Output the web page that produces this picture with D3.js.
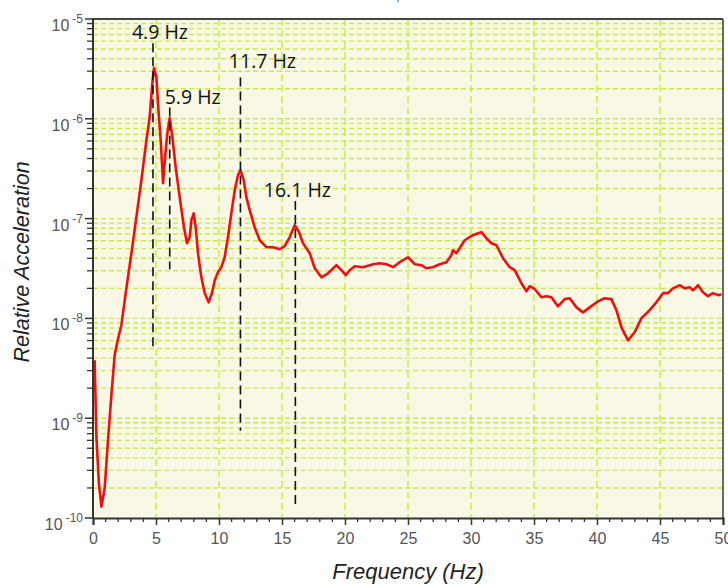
<!DOCTYPE html>
<html>
<head>
<meta charset="utf-8">
<script src="https://cdnjs.cloudflare.com/ajax/libs/d3/7.8.5/d3.min.js"></script>
<style>
    body { margin: 0; background: #fff; }
</style>
</head>
<body>
<div id="chart"></div>
<script>
// spectrum (Hz, relative acceleration)
const freqHz = [0.13, 0.18, 0.27, 0.47, 0.67, 0.93, 1.19, 1.46, 1.72, 1.98, 2.25, 2.65, 3.05, 3.44, 3.84,
    4.24, 4.50, 4.71, 4.84, 5.03, 5.21, 5.37, 5.51, 5.56, 5.75, 5.90, 6.09, 6.30, 6.56, 6.88, 7.22,
    7.46, 7.67, 7.81, 7.99, 8.15, 8.33, 8.60, 8.87, 9.18, 9.44, 9.66, 9.92, 10.19, 10.45, 10.71, 10.98,
    11.25, 11.51, 11.70, 11.96, 12.17, 12.44, 12.83, 13.23, 13.76, 14.29, 14.82, 15.21, 15.61, 16.01,
    16.35, 16.67, 17.20, 17.60, 18.13, 18.65, 19.32, 19.71, 20.06, 20.37, 20.77, 21.43, 22.22, 22.75,
    23.29, 23.81, 24.34, 25.00, 25.53, 26.06, 26.46, 26.98, 27.52, 28.05, 28.44, 28.57, 28.84, 29.10,
    29.50, 30.16, 30.56, 30.83, 31.22, 31.62, 32.02, 32.54, 33.07, 33.47, 34.00, 34.40, 34.66, 35.06,
    35.59, 35.98, 36.38, 36.90, 37.44, 37.83, 38.37, 38.89, 39.42, 40.08, 40.61, 41.14, 41.54, 41.94,
    42.46, 42.99, 43.52, 44.18, 44.71, 45.24, 45.63, 46.03, 46.56, 46.96, 47.36, 47.62, 48.02, 48.41,
    48.81, 49.21, 49.60, 49.87];
const accel = [3.8e-9, 2.0e-9, 6.6e-10, 2.2e-10, 1.3e-10, 2.0e-10, 6.0e-10, 1.7e-9, 4.3e-9, 6.2e-9, 8.5e-9,
    2.0e-8, 4.5e-8, 1.03e-7, 2.43e-7, 6.1e-7, 1.04e-6, 2.28e-6, 3.23e-6, 2.62e-6, 1.14e-6, 6.1e-7,
    3.06e-7, 2.26e-7, 4.53e-7, 7.19e-7, 1.02e-6, 6.55e-7, 3.28e-7, 1.64e-7, 8.2e-8, 5.66e-8, 6.5e-8,
    9.64e-8, 1.13e-7, 8.2e-8, 4.5e-8, 2.58e-8, 1.79e-8, 1.45e-8, 1.79e-8, 2.41e-8, 2.9e-8, 3.26e-8,
    4.1e-8, 6.5e-8, 1.13e-7, 1.93e-7, 2.72e-7, 3.06e-7, 2.43e-7, 1.64e-7, 1.21e-7, 8.2e-8, 6.07e-8,
    5.17e-8, 5.17e-8, 4.93e-8, 5.29e-8, 6.5e-8, 8.59e-8, 7.31e-8, 5.66e-8, 4.5e-8, 3.18e-8, 2.58e-8,
    2.83e-8, 3.41e-8, 3.04e-8, 2.71e-8, 3.04e-8, 3.33e-8, 3.26e-8, 3.49e-8, 3.57e-8, 3.49e-8, 3.26e-8,
    3.66e-8, 4.1e-8, 3.49e-8, 3.41e-8, 3.18e-8, 3.26e-8, 3.49e-8, 3.66e-8, 4.3e-8, 4.82e-8, 4.5e-8,
    5.05e-8, 6.07e-8, 6.82e-8, 7.14e-8, 7.31e-8, 6.36e-8, 5.66e-8, 5.41e-8, 4.01e-8, 3.26e-8, 3.04e-8,
    2.25e-8, 1.87e-8, 2.1e-8, 1.96e-8, 1.63e-8, 1.67e-8, 1.63e-8, 1.32e-8, 1.56e-8, 1.59e-8, 1.29e-8,
    1.15e-8, 1.29e-8, 1.48e-8, 1.59e-8, 1.56e-8, 1.21e-8, 8.14e-9, 6.03e-9, 7.26e-9, 1.0e-8, 1.21e-8,
    1.45e-8, 1.79e-8, 1.79e-8, 2.0e-8, 2.15e-8, 2.0e-8, 2.05e-8, 1.91e-8, 2.15e-8, 1.83e-8, 1.67e-8,
    1.79e-8, 1.71e-8, 1.75e-8];

const xTickValues = [0, 5, 10, 15, 20, 25, 30, 35, 40, 45, 50];
const yExponents = [-10, -9, -8, -7, -6, -5];

// peak markers
const peakLabels = ["4.9 Hz", "5.9 Hz", "11.7 Hz", "16.1 Hz"];
const peakFreq = [4.76, 6.09, 11.7, 16.06];
const peakTop = [5.7e-6, 1.3e-6, 2.6e-6, 1.5e-7];
const peakBottom = [4.9e-9, 3.1e-8, 7.5e-10, 1.3e-10];

const width = 728, height = 586;
const margin = { top: 19, right: 5, bottom: 68, left: 93 };

const svg = d3.select("#chart")
    .append("svg")
    .attr("width", width)
    .attr("height", height)
    .style("font-family", "Arial, 'Liberation Sans', sans-serif");

const x = d3.scaleLinear().domain([0, 50]).range([margin.left, width - margin.right]);
const y = d3.scaleLog().domain([1e-10, 1e-5]).range([height - margin.bottom, margin.top]);

const gridColor = "#c6ee3a";

// plot background
svg.append("rect")
    .attr("x", x(0)).attr("y", y(1e-5))
    .attr("width", x(50) - x(0)).attr("height", y(1e-10) - y(1e-5))
    .attr("fill", "#f8f8e4");

// minor + major y values
const yGridValues = [];
yExponents.slice(0, -1).forEach(e => {
    for (let m = 1; m <= 9; m++) yGridValues.push(m * Math.pow(10, e));
});

svg.append("g").selectAll("line")
    .data(yGridValues.filter(v => v > 1e-10))
    .enter().append("line")
    .attr("x1", x(0)).attr("x2", x(50))
    .attr("y1", d => y(d)).attr("y2", d => y(d))
    .attr("stroke", gridColor)
    .attr("stroke-width", 1.4)
    .attr("stroke-dasharray", "5,3");

svg.append("g").selectAll("line")
    .data(xTickValues.slice(1, -1))
    .enter().append("line")
    .attr("x1", d => x(d)).attr("x2", d => x(d))
    .attr("y1", y(1e-5)).attr("y2", y(1e-10))
    .attr("stroke", gridColor)
    .attr("stroke-width", 1.4)
    .attr("stroke-dasharray", "7,4");

// the curve
const points = freqHz.map((f, i) => [f, accel[i]]);
svg.append("path")
    .datum(points)
    .attr("fill", "none")
    .attr("stroke", "#ee1010")
    .attr("stroke-width", 2.6)
    .attr("stroke-linejoin", "round")
    .attr("d", d3.line().x(d => x(d[0])).y(d => y(d[1])));

// peak markers
const labelDx = [7, 23, 22, 2];
const labelDy = [-4, -3, -9, -4];
peakLabels.forEach((lab, i) => {
    svg.append("line")
        .attr("x1", x(peakFreq[i])).attr("x2", x(peakFreq[i]))
        .attr("y1", y(peakTop[i])).attr("y2", y(peakBottom[i]))
        .attr("stroke", "#111")
        .attr("stroke-width", 1.6)
        .attr("stroke-dasharray", "9,5");
    svg.append("text")
        .attr("x", x(peakFreq[i]) + labelDx[i])
        .attr("y", y(peakTop[i]) + labelDy[i])
        .attr("text-anchor", "middle")
        .style("font-family", "'Open Sans', sans-serif")
        .style("font-size", "19.5px")
        .style("fill", "#111")
        .text(lab);
});

// frame
const frame = "#444";
svg.append("line").attr("x1", x(0)).attr("x2", x(50)).attr("y1", y(1e-5)).attr("y2", y(1e-5))
    .attr("stroke", frame).attr("stroke-width", 2);
svg.append("line").attr("x1", x(50)).attr("x2", x(50)).attr("y1", y(1e-5)).attr("y2", y(1e-10))
    .attr("stroke", frame).attr("stroke-width", 1.6);

// x axis
const xAxis = svg.append("g")
    .attr("transform", `translate(0,${y(1e-10)})`)
    .call(d3.axisBottom(x).tickValues(xTickValues).tickSize(7).tickPadding(8).tickFormat(d3.format("d")));
xAxis.select(".domain").attr("stroke", "#333").attr("stroke-width", 2);
xAxis.selectAll(".tick line").attr("stroke", "#333").attr("stroke-width", 1.5);
xAxis.selectAll("text").style("font-size", "16px").style("fill", "#555");

xAxis.selectAll(".minor")
    .data(d3.range(0, 51).filter(d => d % 5 !== 0))
    .enter().append("line")
    .attr("class", "minor")
    .attr("x1", d => x(d)).attr("x2", d => x(d))
    .attr("y1", 0).attr("y2", 4)
    .attr("stroke", "#333").attr("stroke-width", 1.3);

// y axis
const yAxis = svg.append("g").attr("transform", `translate(${x(0)},0)`);
yAxis.append("line")
    .attr("x1", 0).attr("x2", 0).attr("y1", y(1e-5)).attr("y2", y(1e-10))
    .attr("stroke", "#333").attr("stroke-width", 2);
yAxis.selectAll(".minor")
    .data(yGridValues.filter(v => v > 1e-10 && !yExponents.some(e => Math.abs(v - Math.pow(10, e)) < 1e-15)))
    .enter().append("line")
    .attr("class", "minor")
    .attr("x1", -6).attr("x2", 0)
    .attr("y1", d => y(d)).attr("y2", d => y(d))
    .attr("stroke", "#333").attr("stroke-width", 1.3);
yAxis.selectAll(".major")
    .data(yExponents)
    .enter().append("line")
    .attr("class", "major")
    .attr("x1", -8).attr("x2", 0)
    .attr("y1", d => y(Math.pow(10, d))).attr("y2", d => y(Math.pow(10, d)))
    .attr("stroke", "#333").attr("stroke-width", 1.5);

const yLab = yAxis.selectAll(".ylab")
    .data(yExponents)
    .enter().append("text")
    .attr("class", "ylab")
    .attr("x", -10)
    .attr("y", d => y(Math.pow(10, d)) + 12)
    .attr("text-anchor", "end")
    .style("font-size", "16px")
    .style("fill", "#555");
yLab.append("tspan").text("10");
yLab.append("tspan")
    .attr("dx", 3)
    .attr("dy", -8)
    .style("font-size", "12px")
    .text(d => String(d));

// axis titles
svg.append("text")
    .attr("x", (x(0) + x(50)) / 2)
    .attr("y", 579)
    .attr("text-anchor", "middle")
    .style("font-size", "22px")
    .style("font-style", "italic")
    .style("fill", "#222")
    .text("Frequency (Hz)");

svg.append("text")
    .attr("transform", `translate(29,262) rotate(-90)`)
    .attr("text-anchor", "middle")
    .style("font-size", "21.5px")
    .style("font-style", "italic")
    .style("fill", "#222")
    .text("Relative Acceleration");

// stray mark at the top of the original
svg.append("text")
    .attr("x", 398).attr("y", 8)
    .attr("text-anchor", "middle")
    .style("font-size", "10px")
    .style("fill", "#333")
    .text("'");
</script>
</body>
</html>
